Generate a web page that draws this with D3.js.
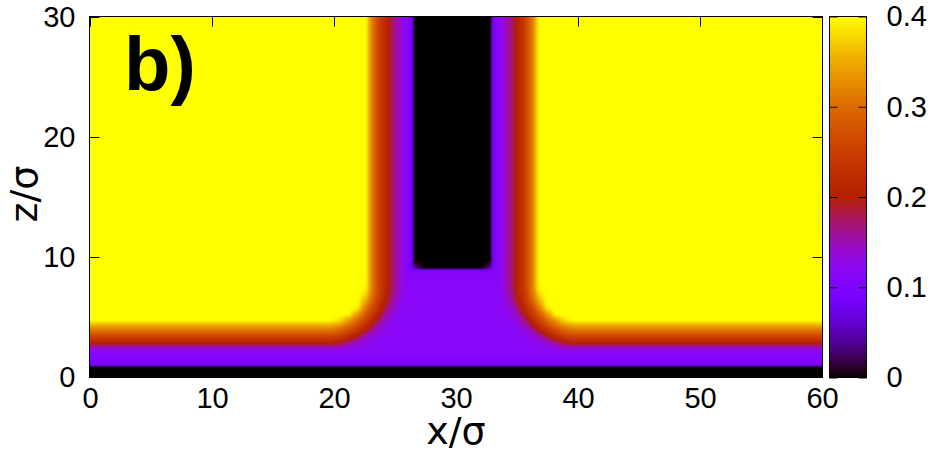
<!DOCTYPE html>
<meta charset="utf-8">
<style>
body { margin: 0; background: #fff; }
svg { display: block; font-family: "DejaVu Sans", sans-serif; }
.tick text { font-size: 29px; fill: #000; }
.tick line { stroke: #000; stroke-width: 1; }
</style>
<body>
<script src="https://d3js.org/d3.v7.min.js"></script>
<script>

// grid nodes of the density map (units of sigma)
var xNodes = [0, 16, 18, 19.4, 20.3, 21.1, 21.8, 22.5, 23.1, 23.7, 24.3, 24.9, 25.5, 26, 26.35, 26.65, 27.4,
              29.7,
              32, 32.75, 33.05, 33.4, 33.9, 34.5, 35.1, 35.7, 36.3, 36.9, 37.6, 38.3, 39.1, 40, 41.4, 43.4, 60];
var zNodes = [0, 0.82, 1, 1.5, 2, 2.4, 2.8, 3.3, 3.8, 4.3, 4.8, 5.3, 5.8, 6.3, 6.8, 7.3, 7.8, 8.4, 8.8, 9.15, 9.8, 12, 30];

// density: one row per zNode, one value per xNode
var density = [
  [0,0,0,0,0,0,0,0,0,0,0,0,0,0,0,0,0, 0, 0,0,0,0,0,0,0,0,0,0,0,0,0,0,0,0,0],
  [0,0,0,0,0,0,0,0,0,0,0,0,0,0,0,0,0, 0, 0,0,0,0,0,0,0,0,0,0,0,0,0,0,0,0,0],
  [.08,.08,.08,.08,.08,.08,.08,.08,.08,.08,.08,.08,.08,.08,.08,.08,.08, .08, .08,.08,.08,.08,.08,.08,.08,.08,.08,.08,.08,.08,.08,.08,.08,.08,.08],
  [.105,.105,.105,.105,.105,.105,.105,.105,.105,.105,.105,.105,.105,.105,.105,.105,.105, .105, .105,.105,.105,.105,.105,.105,.105,.105,.105,.105,.105,.105,.105,.105,.105,.105,.105],
  [.115,.115,.115,.115,.115,.115,.115,.115,.115,.115,.115,.115,.115,.115,.115,.115,.115, .115, .115,.115,.115,.115,.115,.115,.115,.115,.115,.115,.115,.115,.115,.115,.115,.115,.115],
  [.14,.14,.14,.14,.139,.131,.123,.12,.116,.115,.115,.115,.115,.115,.115,.115,.115, .115, .115,.115,.115,.115,.115,.115,.115,.115,.116,.12,.123,.131,.139,.14,.14,.14,.14],
  [.2,.2,.2,.2,.189,.163,.141,.126,.121,.115,.115,.115,.115,.115,.115,.115,.115, .115, .115,.115,.115,.115,.115,.115,.115,.115,.121,.126,.141,.163,.189,.2,.2,.2,.2],
  [.25,.25,.25,.25,.24,.219,.188,.149,.13,.122,.115,.115,.115,.115,.115,.115,.115, .115, .115,.115,.115,.115,.115,.115,.115,.122,.13,.149,.188,.219,.24,.25,.25,.25,.25],
  [.3,.3,.3,.3,.288,.261,.232,.194,.154,.132,.121,.115,.115,.115,.115,.115,.115, .115, .115,.115,.115,.115,.115,.115,.121,.132,.154,.194,.232,.261,.288,.3,.3,.3,.3],
  [.35,.35,.35,.35,.338,.308,.271,.23,.192,.151,.13,.117,.115,.115,.115,.115,.115, .115, .115,.115,.115,.115,.115,.117,.13,.151,.192,.23,.271,.308,.338,.35,.35,.35,.35],
  [.4,.4,.4,.4,.389,.354,.311,.261,.222,.177,.141,.125,.116,.115,.115,.115,.115, .115, .115,.115,.115,.115,.116,.125,.141,.177,.222,.261,.311,.354,.389,.4,.4,.4,.4],
  [.4,.4,.4,.4,.4,.399,.352,.295,.246,.205,.158,.132,.116,.115,.115,.115,.115, .115, .115,.115,.115,.115,.116,.132,.158,.205,.246,.295,.352,.399,.4,.4,.4,.4,.4],
  [.4,.4,.4,.4,.4,.4,.393,.325,.269,.223,.177,.141,.121,.115,.115,.115,.115, .115, .115,.115,.115,.115,.121,.141,.177,.223,.269,.325,.393,.4,.4,.4,.4,.4,.4],
  [.4,.4,.4,.4,.4,.4,.4,.355,.292,.238,.193,.151,.126,.115,.115,.115,.115, .115, .115,.115,.115,.115,.126,.151,.193,.238,.292,.355,.4,.4,.4,.4,.4,.4,.4],
  [.4,.4,.4,.4,.4,.4,.4,.378,.308,.249,.203,.159,.13,.115,.115,.115,.115, .115, .115,.115,.115,.115,.13,.159,.203,.249,.308,.378,.4,.4,.4,.4,.4,.4,.4],
  [.4,.4,.4,.4,.4,.4,.4,.394,.318,.254,.208,.165,.133,.115,.115,.115,.115, .115, .115,.115,.115,.115,.133,.165,.208,.254,.318,.394,.4,.4,.4,.4,.4,.4,.4],
  [.4,.4,.4,.4,.4,.4,.4,.4,.32,.255,.21,.168,.135,.115,.115,.115,.115, .115, .115,.115,.115,.115,.135,.168,.21,.255,.32,.4,.4,.4,.4,.4,.4,.4,.4],
  [.4,.4,.4,.4,.4,.4,.4,.4,.32,.255,.21,.168,.135,.115,.115,.115,.115, .115, .115,.115,.115,.115,.135,.168,.21,.255,.32,.4,.4,.4,.4,.4,.4,.4,.4],
  [.4,.4,.4,.4,.4,.4,.4,.4,.32,.255,.21,.168,.135,.113,.11,.105,.1, .1, .1,.105,.11,.113,.135,.168,.21,.255,.32,.4,.4,.4,.4,.4,.4,.4,.4],
  [.4,.4,.4,.4,.4,.4,.4,.4,.32,.255,.21,.168,.135,.11,.08,.04,0, 0, 0,.04,.08,.11,.135,.168,.21,.255,.32,.4,.4,.4,.4,.4,.4,.4,.4],
  [.4,.4,.4,.4,.4,.4,.4,.4,.32,.255,.21,.168,.135,.11,.08,0,0, 0, 0,0,.08,.11,.135,.168,.21,.255,.32,.4,.4,.4,.4,.4,.4,.4,.4],
  [.4,.4,.4,.4,.4,.4,.4,.4,.32,.255,.21,.168,.135,.11,.08,0,0, 0, 0,0,.08,.11,.135,.168,.21,.255,.32,.4,.4,.4,.4,.4,.4,.4,.4],
  [.4,.4,.4,.4,.4,.4,.4,.4,.32,.255,.21,.168,.135,.11,.08,0,0, 0, 0,0,.08,.11,.135,.168,.21,.255,.32,.4,.4,.4,.4,.4,.4,.4,.4]
];

var xTicks = [0, 10, 20, 30, 40, 50, 60];
var zTicks = [0, 10, 20, 30];
var cbTicks = [0, 0.1, 0.2, 0.3, 0.4];

// gnuplot's default pm3d palette (rgbformulae 7,5,15)
function gnuplotPalette(t) {
  var r = Math.sqrt(t), g = t * t * t, b = Math.max(0, Math.sin(2 * Math.PI * t));
  return d3.rgb(255 * r, 255 * g, 255 * Math.min(1, b)) + "";
}

var x = d3.scaleLinear().domain([0, 60]).range([90, 822]);
var z = d3.scaleLinear().domain([0, 30]).range([377, 17]);
var color = d3.scaleSequential(gnuplotPalette).domain([0, 0.4]).clamp(true);

var svg = d3.select("body").append("svg")
    .attr("width", 939)
    .attr("height", 453);

// ---- smooth (monotone cubic) interpolation between grid nodes, like pm3d interpolate
function slopes(xs, ys) {
  var n = xs.length, h = [], d = [], m = new Array(n);
  for (var k = 0; k < n - 1; k++) { h[k] = xs[k + 1] - xs[k]; d[k] = (ys[k + 1] - ys[k]) / h[k]; }
  m[0] = d[0]; m[n - 1] = d[n - 2];
  for (k = 1; k < n - 1; k++) {
    if (d[k - 1] * d[k] <= 0) m[k] = 0;
    else {
      var w1 = 2 * h[k] + h[k - 1], w2 = h[k] + 2 * h[k - 1];
      m[k] = (w1 + w2) / (w1 / d[k - 1] + w2 / d[k]);
    }
  }
  return m;
}
function hermite(xs, ys, ms, v) {
  var i = Math.max(0, Math.min(xs.length - 2, d3.bisectRight(xs, v) - 1));
  var h = xs[i + 1] - xs[i];
  var s = Math.max(0, Math.min(1, (v - xs[i]) / h)), s2 = s * s, s3 = s2 * s;
  return (2 * s3 - 3 * s2 + 1) * ys[i] + (s3 - 2 * s2 + s) * h * ms[i] +
         (-2 * s3 + 3 * s2) * ys[i + 1] + (s3 - s2) * h * ms[i + 1];
}

var W = x(60) - x(0), H = z(0) - z(30);
var canvas = document.createElement("canvas");
canvas.width = W; canvas.height = H;
var ctx = canvas.getContext("2d");
var img = ctx.createImageData(W, H);
var lut = d3.range(1024).map(function(i) { return d3.rgb(color(i / 1023 * 0.4)); });

var colX = d3.range(W).map(function(i) { return x.invert(x(0) + i + 0.5); });
var rowZ = d3.range(H).map(function(j) { return z.invert(z(30) + j + 0.5); });

// pass 1: along x for every z node row
var atNodes = density.map(function(row) {
  var ms = slopes(xNodes, row);
  return colX.map(function(xv) { return hermite(xNodes, row, ms, xv); });
});

// pass 2: along z for every pixel column
for (var i = 0; i < W; i++) {
  var col = atNodes.map(function(r) { return r[i]; });
  var ms = slopes(zNodes, col);
  for (var j = 0; j < H; j++) {
    var v = hermite(zNodes, col, ms, rowZ[j]);
    var k = Math.max(0, Math.min(1023, Math.round(v / 0.4 * 1023)));
    var c = lut[k], p = 4 * (j * W + i);
    img.data[p] = c.r; img.data[p + 1] = c.g; img.data[p + 2] = c.b; img.data[p + 3] = 255;
  }
}
ctx.putImageData(img, 0, 0);

svg.append("image")
    .attr("x", x(0)).attr("y", z(30))
    .attr("width", W).attr("height", H)
    .attr("href", canvas.toDataURL());

// ---- axes, ticks pointing inward like gnuplot
function noDomain(g) { g.select(".domain").remove(); }

svg.append("g")
    .attr("transform", "translate(89.5,0)")
    .call(d3.axisLeft(z).tickValues(zTicks).tickSize(-10).tickPadding(14))
    .call(noDomain);

svg.append("g")
    .attr("transform", "translate(0,377)")
    .call(d3.axisBottom(x).tickValues(xTicks).tickSize(-10).tickPadding(10))
    .call(noDomain);

svg.append("g")
    .attr("transform", "translate(0,16.5)")
    .call(d3.axisTop(x).tickValues(xTicks).tickSize(-10).tickFormat(""))
    .call(noDomain);

svg.append("g")
    .attr("transform", "translate(822.5,0)")
    .call(d3.axisRight(z).tickValues(zTicks).tickSize(-10).tickFormat(""))
    .call(noDomain);

svg.append("rect")
    .attr("x", 89.5).attr("y", 16.5)
    .attr("width", 733).attr("height", 361)
    .attr("fill", "none").attr("stroke", "#000");

// ---- colour box
var cb = d3.scaleLinear().domain([0, 0.4]).range([377.5, 16.5]);
var grad = svg.append("defs").append("linearGradient")
    .attr("id", "cbgrad")
    .attr("x1", 0).attr("y1", 1).attr("x2", 0).attr("y2", 0);
grad.selectAll("stop")
    .data(d3.range(0, 0.4001, 0.005))
  .enter().append("stop")
    .attr("offset", function(d) { return d / 0.4; })
    .attr("stop-color", function(d) { return color(d); });

svg.append("rect")
    .attr("x", 829.5).attr("y", 16.5)
    .attr("width", 37).attr("height", 361)
    .attr("fill", "url(#cbgrad)")
    .attr("stroke", "#000");

svg.append("g")
    .attr("transform", "translate(829.5,0)")
    .call(d3.axisLeft(cb).tickValues(cbTicks).tickSize(-8).tickFormat(""))
    .call(noDomain);

svg.append("g")
    .attr("transform", "translate(866.5,0)")
    .call(d3.axisRight(cb).tickValues(cbTicks).tickSize(-8).tickPadding(20)
      .tickFormat(function(d) { return d === 0 ? "0" : d.toFixed(1); }))
    .call(noDomain);

// ---- labels
svg.append("text")
    .attr("x", 456).attr("y", 444)
    .attr("text-anchor", "middle")
    .attr("font-size", 38)
    .text("x/σ");

svg.append("text")
    .attr("transform", "translate(37,194) rotate(-90)")
    .attr("text-anchor", "middle")
    .attr("font-size", 38)
    .text("z/σ");

svg.append("text")
    .attr("x", 124).attr("y", 90)
    .attr("font-family", "'Liberation Sans', Arial, sans-serif")
    .attr("font-weight", "bold")
    .attr("font-size", 76)
    .text("b)");

</script>
</body>
